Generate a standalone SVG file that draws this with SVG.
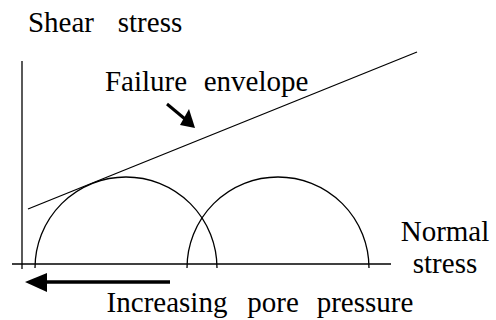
<svg xmlns="http://www.w3.org/2000/svg" width="496" height="320" viewBox="0 0 496 320">
<rect width="496" height="320" fill="#fff"/>
<g id="axes" stroke="#000" stroke-width="1.3" fill="none">
<line x1="22" y1="61" x2="22" y2="269"/>
<line x1="12" y1="264" x2="391" y2="264"/>
</g>
<g id="circle1"><path d="M35,268 A91,91 0 0 1 217,268" stroke="#000" stroke-width="1.3" fill="none"/></g>
<g id="circle2"><path d="M187,268 A91,91 0 0 1 369,268" stroke="#000" stroke-width="1.3" fill="none"/></g>
<g id="envelope"><line x1="28" y1="209" x2="417" y2="52" stroke="#000" stroke-width="1.3"/></g>
<g id="connectors">
<line x1="167" y1="104" x2="185" y2="119" stroke="#000" stroke-width="3"/>
<polygon points="195,128 180,125 189,109" fill="#000"/>
<line x1="44" y1="282" x2="170" y2="282" stroke="#000" stroke-width="3.5"/>
<polygon points="25,282 47,273 47,292" fill="#000"/>
</g>
<text x="61" y="32" font-family="Liberation Serif" font-size="29" text-anchor="middle">Shear</text>
<text x="150" y="32" font-family="Liberation Serif" font-size="29" text-anchor="middle">stress</text>
<text x="146" y="91" font-family="Liberation Serif" font-size="29" text-anchor="middle">Failure</text>
<text x="256" y="91" font-family="Liberation Serif" font-size="29" text-anchor="middle">envelope</text>
<text x="167" y="312" font-family="Liberation Serif" font-size="29" text-anchor="middle">Increasing</text>
<text x="273" y="312" font-family="Liberation Serif" font-size="29" text-anchor="middle">pore</text>
<text x="365" y="312" font-family="Liberation Serif" font-size="29" text-anchor="middle">pressure</text>
<text x="445" y="241" font-family="Liberation Serif" font-size="29" text-anchor="middle">Normal</text>
<text x="445" y="273" font-family="Liberation Serif" font-size="29" text-anchor="middle">stress</text>
</svg>
